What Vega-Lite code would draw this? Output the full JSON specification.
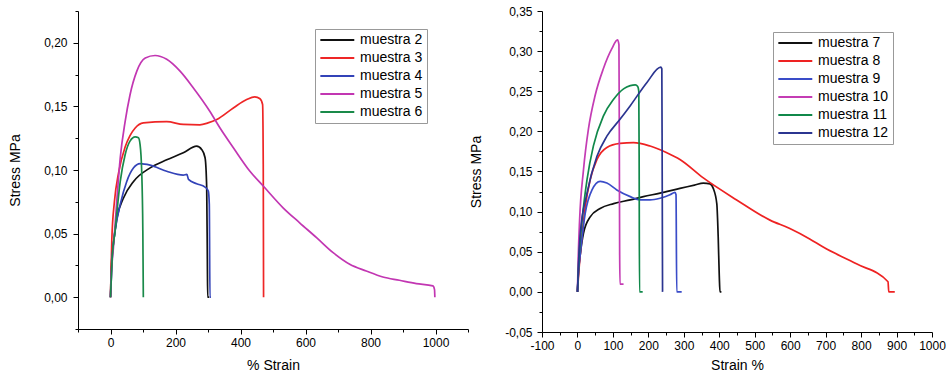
{
  "$schema": "https://vega.github.io/schema/vega-lite/v6.json",
  "background": "white",
  "padding": {"left": 8, "top": 5, "right": 0, "bottom": 0},
  "bounds": "flush",
  "spacing": 74,
  "config": {
    "view": {"stroke": null},
    "font": "Liberation Sans",
    "axis": {"grid": false, "domainColor": "black", "tickColor": "black", "labelColor": "black", "titleColor": "black", "labelFont": "Liberation Sans", "labelFontSize": 12, "titleFont": "Liberation Sans", "titleFontSize": 14, "titleFontWeight": "normal", "labelOverlap": false, "labelFlush": false, "domainWidth": 1, "tickWidth": 1},
    "legend": {"labelFont": "Liberation Sans", "labelFontSize": 14, "labelColor": "black", "strokeColor": "#999999", "fillColor": "white", "symbolStrokeWidth": 2, "symbolType": "M-1,0H5", "symbolSize": 128, "labelOffset": 27, "padding": 4, "rowPadding": 4, "title": null, "orient": "none"}
  },
  "resolve": {"scale": {"x": "independent", "y": "independent", "color": "independent"}, "legend": {"color": "independent"}},
  "datasets": {
    "left": [
      {"m":"muestra 2","x":0,"y":0},{"m":"muestra 2","x":3,"y":0.026},{"m":"muestra 2","x":9,"y":0.042},{"m":"muestra 2","x":20,"y":0.0625},{"m":"muestra 2","x":40,"y":0.078},{"m":"muestra 2","x":71,"y":0.091},{"m":"muestra 2","x":122,"y":0.1017},{"m":"muestra 2","x":173,"y":0.108},{"m":"muestra 2","x":224,"y":0.1135},{"m":"muestra 2","x":265,"y":0.1187},{"m":"muestra 2","x":281,"y":0.116},{"m":"muestra 2","x":291,"y":0.1096},{"m":"muestra 2","x":296,"y":0.086},{"m":"muestra 2","x":298,"y":0.03},{"m":"muestra 2","x":299,"y":0},{"m":"muestra 2","x":304,"y":0},
      {"m":"muestra 3","x":0,"y":0},{"m":"muestra 3","x":4,"y":0.045},{"m":"muestra 3","x":12,"y":0.075},{"m":"muestra 3","x":25,"y":0.098},{"m":"muestra 3","x":45,"y":0.118},{"m":"muestra 3","x":60,"y":0.127},{"m":"muestra 3","x":76,"y":0.133},{"m":"muestra 3","x":101,"y":0.137},{"m":"muestra 3","x":173,"y":0.138},{"m":"muestra 3","x":224,"y":0.1358},{"m":"muestra 3","x":275,"y":0.1355},{"m":"muestra 3","x":300,"y":0.137},{"m":"muestra 3","x":327,"y":0.1397},{"m":"muestra 3","x":378,"y":0.1488},{"m":"muestra 3","x":419,"y":0.1554},{"m":"muestra 3","x":444,"y":0.1575},{"m":"muestra 3","x":460,"y":0.156},{"m":"muestra 3","x":468,"y":0.1515},{"m":"muestra 3","x":470,"y":0.1044},{"m":"muestra 3","x":471,"y":0},
      {"m":"muestra 4","x":0,"y":0},{"m":"muestra 4","x":5,"y":0.03},{"m":"muestra 4","x":14,"y":0.052},{"m":"muestra 4","x":30,"y":0.073},{"m":"muestra 4","x":50,"y":0.091},{"m":"muestra 4","x":71,"y":0.1017},{"m":"muestra 4","x":91,"y":0.105},{"m":"muestra 4","x":122,"y":0.1038},{"m":"muestra 4","x":173,"y":0.099},{"m":"muestra 4","x":224,"y":0.096},{"m":"muestra 4","x":235,"y":0.0966},{"m":"muestra 4","x":240,"y":0.0926},{"m":"muestra 4","x":265,"y":0.0892},{"m":"muestra 4","x":291,"y":0.0866},{"m":"muestra 4","x":301,"y":0.0834},{"m":"muestra 4","x":304,"y":0.073},{"m":"muestra 4","x":306,"y":0},{"m":"muestra 4","x":309,"y":0},
      {"m":"muestra 5","x":0,"y":0},{"m":"muestra 5","x":3,"y":0.02},{"m":"muestra 5","x":9,"y":0.039},{"m":"muestra 5","x":20,"y":0.078},{"m":"muestra 5","x":30,"y":0.1096},{"m":"muestra 5","x":45,"y":0.138},{"m":"muestra 5","x":60,"y":0.159},{"m":"muestra 5","x":81,"y":0.1777},{"m":"muestra 5","x":107,"y":0.188},{"m":"muestra 5","x":137,"y":0.19},{"m":"muestra 5","x":173,"y":0.187},{"m":"muestra 5","x":214,"y":0.1777},{"m":"muestra 5","x":255,"y":0.1645},{"m":"muestra 5","x":306,"y":0.146},{"m":"muestra 5","x":337,"y":0.133},{"m":"muestra 5","x":378,"y":0.1175},{"m":"muestra 5","x":429,"y":0.099},{"m":"muestra 5","x":470,"y":0.0874},{"m":"muestra 5","x":531,"y":0.0703},{"m":"muestra 5","x":582,"y":0.0585},{"m":"muestra 5","x":634,"y":0.0468},{"m":"muestra 5","x":685,"y":0.035},{"m":"muestra 5","x":736,"y":0.0259},{"m":"muestra 5","x":787,"y":0.0206},{"m":"muestra 5","x":838,"y":0.0159},{"m":"muestra 5","x":889,"y":0.0133},{"m":"muestra 5","x":941,"y":0.0107},{"m":"muestra 5","x":992,"y":0.0089},{"m":"muestra 5","x":997,"y":0.006},{"m":"muestra 5","x":998,"y":0},
      {"m":"muestra 6","x":0,"y":0},{"m":"muestra 6","x":5,"y":0.03},{"m":"muestra 6","x":14,"y":0.052},{"m":"muestra 6","x":30,"y":0.091},{"m":"muestra 6","x":45,"y":0.112},{"m":"muestra 6","x":60,"y":0.1227},{"m":"muestra 6","x":76,"y":0.126},{"m":"muestra 6","x":86,"y":0.1253},{"m":"muestra 6","x":91,"y":0.12},{"m":"muestra 6","x":96,"y":0.099},{"m":"muestra 6","x":99.5,"y":0.052},{"m":"muestra 6","x":101,"y":0}
    ],
    "right": [
      {"m":"muestra 7","x":0,"y":0},{"m":"muestra 7","x":3,"y":0.026},{"m":"muestra 7","x":8,"y":0.047},{"m":"muestra 7","x":17,"y":0.073},{"m":"muestra 7","x":36,"y":0.0935},{"m":"muestra 7","x":64,"y":0.104},{"m":"muestra 7","x":102,"y":0.11},{"m":"muestra 7","x":149,"y":0.1146},{"m":"muestra 7","x":186,"y":0.1187},{"m":"muestra 7","x":233,"y":0.123},{"m":"muestra 7","x":289,"y":0.129},{"m":"muestra 7","x":330,"y":0.133},{"m":"muestra 7","x":355,"y":0.1356},{"m":"muestra 7","x":374,"y":0.1345},{"m":"muestra 7","x":383,"y":0.129},{"m":"muestra 7","x":393,"y":0.11},{"m":"muestra 7","x":397,"y":0.068},{"m":"muestra 7","x":400,"y":0.02},{"m":"muestra 7","x":402,"y":0},{"m":"muestra 7","x":406,"y":0},
      {"m":"muestra 8","x":0,"y":0},{"m":"muestra 8","x":3,"y":0.02},{"m":"muestra 8","x":8,"y":0.047},{"m":"muestra 8","x":22,"y":0.106},{"m":"muestra 8","x":36,"y":0.14},{"m":"muestra 8","x":55,"y":0.165},{"m":"muestra 8","x":83,"y":0.18},{"m":"muestra 8","x":120,"y":0.185},{"m":"muestra 8","x":158,"y":0.186},{"m":"muestra 8","x":205,"y":0.1817},{"m":"muestra 8","x":252,"y":0.1734},{"m":"muestra 8","x":289,"y":0.165},{"m":"muestra 8","x":355,"y":0.142},{"m":"muestra 8","x":449,"y":0.1146},{"m":"muestra 8","x":543,"y":0.0894},{"m":"muestra 8","x":599,"y":0.079},{"m":"muestra 8","x":655,"y":0.066},{"m":"muestra 8","x":693,"y":0.0558},{"m":"muestra 8","x":787,"y":0.0349},{"m":"muestra 8","x":876,"y":0.0126},{"m":"muestra 8","x":878,"y":0},{"m":"muestra 8","x":895,"y":0},
      {"m":"muestra 9","x":0,"y":0},{"m":"muestra 9","x":3,"y":0.025},{"m":"muestra 9","x":8,"y":0.047},{"m":"muestra 9","x":22,"y":0.098},{"m":"muestra 9","x":41,"y":0.127},{"m":"muestra 9","x":64,"y":0.1377},{"m":"muestra 9","x":83,"y":0.1356},{"m":"muestra 9","x":111,"y":0.127},{"m":"muestra 9","x":149,"y":0.1187},{"m":"muestra 9","x":177,"y":0.1146},{"m":"muestra 9","x":205,"y":0.1146},{"m":"muestra 9","x":233,"y":0.1167},{"m":"muestra 9","x":261,"y":0.121},{"m":"muestra 9","x":275,"y":0.124},{"m":"muestra 9","x":278,"y":0.121},{"m":"muestra 9","x":280,"y":0},{"m":"muestra 9","x":294,"y":0},
      {"m":"muestra 10","x":0,"y":0},{"m":"muestra 10","x":2,"y":0.04},{"m":"muestra 10","x":6,"y":0.089},{"m":"muestra 10","x":17,"y":0.152},{"m":"muestra 10","x":31,"y":0.203},{"m":"muestra 10","x":50,"y":0.245},{"m":"muestra 10","x":73,"y":0.278},{"m":"muestra 10","x":97,"y":0.303},{"m":"muestra 10","x":113,"y":0.314},{"m":"muestra 10","x":117,"y":0.308},{"m":"muestra 10","x":118,"y":0.2},{"m":"muestra 10","x":119,"y":0.05},{"m":"muestra 10","x":120,"y":0.0097},{"m":"muestra 10","x":130,"y":0.0097},
      {"m":"muestra 11","x":0,"y":0},{"m":"muestra 11","x":4,"y":0.04},{"m":"muestra 11","x":13,"y":0.089},{"m":"muestra 11","x":27,"y":0.14},{"m":"muestra 11","x":45,"y":0.182},{"m":"muestra 11","x":73,"y":0.219},{"m":"muestra 11","x":102,"y":0.24},{"m":"muestra 11","x":130,"y":0.253},{"m":"muestra 11","x":149,"y":0.257},{"m":"muestra 11","x":163,"y":0.258},{"m":"muestra 11","x":170,"y":0.256},{"m":"muestra 11","x":173,"y":0.25},{"m":"muestra 11","x":174,"y":0.17},{"m":"muestra 11","x":175,"y":0},{"m":"muestra 11","x":184,"y":0},
      {"m":"muestra 12","x":0,"y":0},{"m":"muestra 12","x":3,"y":0.035},{"m":"muestra 12","x":8,"y":0.073},{"m":"muestra 12","x":27,"y":0.123},{"m":"muestra 12","x":55,"y":0.169},{"m":"muestra 12","x":83,"y":0.194},{"m":"muestra 12","x":120,"y":0.215},{"m":"muestra 12","x":149,"y":0.232},{"m":"muestra 12","x":196,"y":0.261},{"m":"muestra 12","x":235,"y":0.28},{"m":"muestra 12","x":238,"y":0.278},{"m":"muestra 12","x":239,"y":0.15},{"m":"muestra 12","x":240,"y":0}
    ]
  },
  "hconcat": [
    {
      "width": 390,
      "height": 318,
      "data": {"name": "left"},
      "mark": {"type": "line", "strokeWidth": 1.7, "clip": true, "interpolate": "monotone"},
      "encoding": {
        "x": {"field": "x", "type": "quantitative", "scale": {"domain": [-100, 1100], "nice": false, "zero": false},
          "axis": {"title": "% Strain", "values": [-100, 0, 100, 200, 300, 400, 500, 600, 700, 800, 900, 1000, 1100],
            "labelExpr": "datum.value % 200 === 0 ? '' + datum.value : ''",
            "tickSize": {"condition": {"test": "datum.value % 200 === 0", "value": 5}, "value": 3},
            "labelPadding": 3, "titlePadding": 10}},
        "y": {"field": "y", "type": "quantitative", "scale": {"domain": [-0.025, 0.225], "nice": false, "zero": false},
          "axis": {"title": "Stress MPa", "values": [-0.025, 0, 0.025, 0.05, 0.075, 0.1, 0.125, 0.15, 0.175, 0.2, 0.225],
            "labelExpr": "abs(round(datum.value * 1000)) % 50 === 0 ? replace(format(datum.value, '.2f'), '.', ',') : ''",
            "tickSize": {"condition": {"test": "abs(round(datum.value * 1000)) % 50 === 0", "value": 5}, "value": 3},
            "labelPadding": 6, "titlePadding": 21}},
        "color": {"field": "m", "type": "nominal",
          "scale": {"domain": ["muestra 2", "muestra 3", "muestra 4", "muestra 5", "muestra 6"], "range": ["#111111", "#ee2626", "#3343b8", "#c236b2", "#1a8a4a"]},
          "legend": {"legendX": 237, "legendY": 18}}
      }
    },
    {
      "width": 390,
      "height": 321,
      "data": {"name": "right"},
      "mark": {"type": "line", "strokeWidth": 1.7, "clip": true, "interpolate": "monotone"},
      "encoding": {
        "x": {"field": "x", "type": "quantitative", "scale": {"domain": [-100, 1000], "nice": false, "zero": false},
          "axis": {"title": "Strain %", "values": [-100, -50, 0, 50, 100, 150, 200, 250, 300, 350, 400, 450, 500, 550, 600, 650, 700, 750, 800, 850, 900, 950, 1000],
            "labelExpr": "datum.value % 100 === 0 ? '' + datum.value : ''",
            "tickSize": {"condition": {"test": "datum.value % 100 === 0", "value": 5}, "value": 3},
            "labelPadding": 3, "titlePadding": 7}},
        "y": {"field": "y", "type": "quantitative", "scale": {"domain": [-0.05, 0.35], "nice": false, "zero": false},
          "axis": {"title": "Stress MPa", "values": [-0.05, -0.025, 0, 0.025, 0.05, 0.075, 0.1, 0.125, 0.15, 0.175, 0.2, 0.225, 0.25, 0.275, 0.3, 0.325, 0.35],
            "labelExpr": "abs(round(datum.value * 1000)) % 50 === 0 ? replace(replace(format(datum.value, '.2f'), '.', ','), '\u2212', '-') : ''",
            "tickSize": {"condition": {"test": "abs(round(datum.value * 1000)) % 50 === 0", "value": 5}, "value": 3},
            "labelPadding": 5, "titlePadding": 21}},
        "color": {"field": "m", "type": "nominal",
          "scale": {"domain": ["muestra 7", "muestra 8", "muestra 9", "muestra 10", "muestra 11", "muestra 12"], "range": ["#111111", "#ee2222", "#3a4cc8", "#c43cb4", "#10884a", "#2b3590"]},
          "legend": {"legendX": 231, "legendY": 21}}
      }
    }
  ]
}
